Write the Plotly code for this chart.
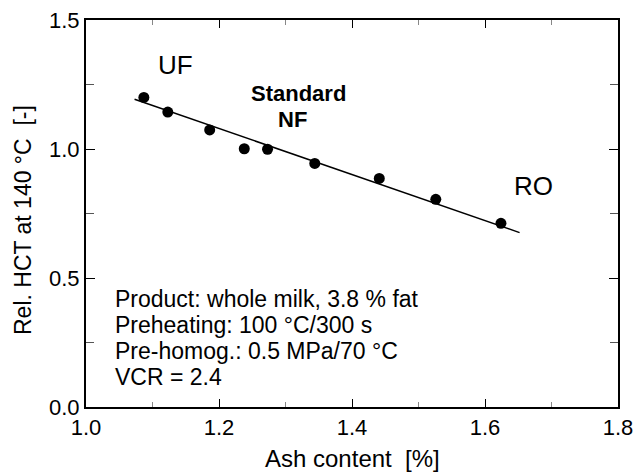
import plotly.graph_objects as go

# Data
ash = [1.087, 1.123, 1.186, 1.238, 1.273, 1.344, 1.441, 1.526, 1.624]
hct = [1.200, 1.143, 1.074, 1.001, 0.999, 0.944, 0.886, 0.805, 0.712]

fit_x = [1.073, 1.652]
fit_y = [1.193, 0.676]

info_lines = [
    "Product: whole milk, 3.8 % fat",
    "Preheating: 100 °C/300 s",
    "Pre-homog.: 0.5 MPa/70 °C",
    "VCR = 2.4",
]
info_y = [0.417, 0.316, 0.216, 0.116]

x_ticks = [1.0, 1.2, 1.4, 1.6, 1.8]
y_ticks = [0.0, 0.5, 1.0, 1.5]

FONT = "Arial, Liberation Sans, Helvetica, sans-serif"
NB = "\u00a0"

fig = go.Figure()
fig.add_trace(go.Scatter(x=fit_x, y=fit_y, mode="lines",
                         line=dict(color="black", width=1.5), showlegend=False))
fig.add_trace(go.Scatter(x=ash, y=hct, mode="markers",
                         marker=dict(color="black", size=11), showlegend=False))

annotations = [
    dict(x=1.135, y=1.324, text="UF", font=dict(size=26)),
    dict(x=1.673, y=0.857, text="RO", font=dict(size=26)),
    dict(x=1.319, y=1.217, text="<b>Standard</b>", font=dict(size=22)),
    dict(x=1.311, y=1.114, text="<b>NF</b>", font=dict(size=22)),
]
for a in annotations:
    a.update(xref="x", yref="y", showarrow=False, xanchor="center", yanchor="middle")
for t, yy in zip(info_lines, info_y):
    annotations.append(dict(x=1.04, y=yy, text=t, xref="x", yref="y", showarrow=False,
                            xanchor="left", yanchor="middle", font=dict(size=23)))
annotations.append(dict(x=0.5, xref="paper", y=-0.132, yref="paper",
                        text="Ash content " + NB + "[%]", showarrow=False,
                        xanchor="center", yanchor="middle", font=dict(size=24)))
annotations.append(dict(x=-(86 - 22.5) / 532, xref="paper", y=(407 - 220.5) / 387, yref="paper",
                        text="Rel. HCT at 140 °C " + NB + "[-]", textangle=-90, showarrow=False,
                        xanchor="center", yanchor="middle", font=dict(size=23)))

fig.update_layout(
    width=635, height=472,
    margin=dict(l=86, r=17, t=20, b=65, autoexpand=False),
    paper_bgcolor="white", plot_bgcolor="white",
    font=dict(family=FONT, size=22, color="black"),
    annotations=annotations,
    xaxis=dict(range=[1.0, 1.8], tickvals=x_ticks, ticktext=[f"{v:.1f}" for v in x_ticks],
               ticks="inside", ticklen=8, tickwidth=1, tickcolor="black",
               showline=True, linewidth=2, linecolor="black", mirror="ticks",
               showgrid=False, zeroline=False, automargin=False,
               ticklabeloverflow="allow",
               minor=dict(dtick=0.1, tick0=1.0, ticks="inside", ticklen=5, tickwidth=1,
                          tickcolor="#888", showgrid=False),
               tickfont=dict(size=22)),
    yaxis=dict(range=[0.0, 1.5], tickvals=y_ticks, ticktext=[f"{v:.1f}" for v in y_ticks],
               ticks="inside", ticklen=9, tickwidth=1, tickcolor="black",
               showline=True, linewidth=2, linecolor="black", mirror="ticks",
               showgrid=False, zeroline=False, automargin=False,
               ticklabeloverflow="allow",
               minor=dict(dtick=0.25, tick0=0.0, ticks="inside", ticklen=8, tickwidth=1,
                          tickcolor="#555", showgrid=False),
               tickfont=dict(size=22)),
)

fig.write_html(
    "out.html",
    config={"displayModeBar": False},
    post_script="document.body.style.margin='0';document.body.style.overflow='hidden';",
)
